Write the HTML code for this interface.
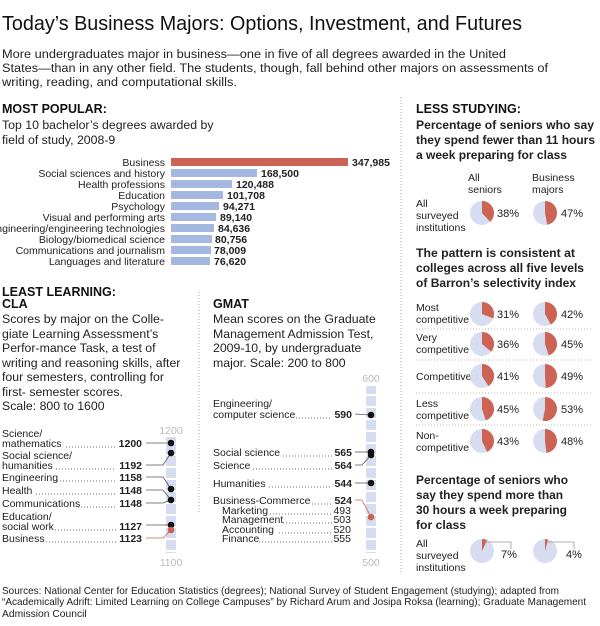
<!DOCTYPE html>
<html><head><meta charset="utf-8"><style>
html,body{margin:0;padding:0;background:#fff}
svg{display:block;font-family:"Liberation Sans",Arial,sans-serif}
</style></head><body>
<svg width="600" height="626" viewBox="0 0 600 626" xmlns="http://www.w3.org/2000/svg">
<defs>
<pattern id="sq" x="0" y="0" width="10" height="12" patternUnits="userSpaceOnUse"><rect x="0" y="0" width="10" height="10" fill="#d6ddf0"/></pattern>
</defs>
<text x="2" y="30" font-size="20" fill="#111" textLength="520" lengthAdjust="spacingAndGlyphs">Today’s Business Majors: Options, Investment, and Futures</text>
<g font-size="12.3" fill="#222">
<text x="2" y="58" textLength="504" lengthAdjust="spacingAndGlyphs">More undergraduates major in business—one in five of all degrees awarded in the United</text>
<text x="2" y="72" textLength="546" lengthAdjust="spacingAndGlyphs">States—than in any other field. The students, though, fall behind other majors on assessments of</text>
<text x="2" y="86" textLength="235" lengthAdjust="spacingAndGlyphs">writing, reading, and computational skills.</text>
</g>
<line x1="401" y1="97" x2="401" y2="574" stroke="#aaa" stroke-dasharray="1,2"/>
<line x1="199" y1="292" x2="199" y2="513" stroke="#aaa" stroke-dasharray="1,2"/>

<text x="2" y="113" font-size="12.5" font-weight="bold" fill="#111">MOST POPULAR:</text>
<text x="2" y="129" font-size="12.3" fill="#222">Top 10 bachelor’s degrees awarded by</text>
<text x="2" y="144" font-size="12.3" fill="#222">field of study, 2008-9</text>
<g font-size="10.5" fill="#222">
<g text-anchor="end">
<text x="165" y="166">Business</text>
<text x="165" y="177">Social sciences and history</text>
<text x="165" y="188">Health professions</text>
<text x="165" y="199">Education</text>
<text x="165" y="210">Psychology</text>
<text x="165" y="221">Visual and performing arts</text>
<text x="165" y="232">Engineering/engineering technologies</text>
<text x="165" y="243">Biology/biomedical science</text>
<text x="165" y="254">Communications and journalism</text>
<text x="165" y="265">Languages and literature</text>
</g>
<rect x="171" y="158" width="177" height="8" fill="#cc6355"/>
<g fill="#a5b8e2">
<rect x="171" y="169" width="86" height="8"/>
<rect x="171" y="180" width="61" height="8"/>
<rect x="171" y="191" width="52" height="8"/>
<rect x="171" y="202" width="48" height="8"/>
<rect x="171" y="213" width="45" height="8"/>
<rect x="171" y="224" width="43" height="8"/>
<rect x="171" y="235" width="41" height="8"/>
<rect x="171" y="246" width="40" height="8"/>
<rect x="171" y="257" width="39" height="8"/>
</g>
<g font-weight="bold">
<text x="352" y="166">347,985</text>
<text x="261" y="177">168,500</text>
<text x="236" y="188">120,488</text>
<text x="227" y="199">101,708</text>
<text x="223" y="210">94,271</text>
<text x="220" y="221">89,140</text>
<text x="218" y="232">84,636</text>
<text x="215" y="243">80,756</text>
<text x="214" y="254">78,009</text>
<text x="214" y="265">76,620</text>
</g>
</g>

<text x="2" y="296" font-size="12.5" font-weight="bold" fill="#111">LEAST LEARNING:</text>
<text x="2" y="308" font-size="12.5" font-weight="bold" fill="#111">CLA</text>
<g font-size="12.3" fill="#222">
<text x="2" y="323">Scores by major on the Colle-</text>
<text x="2" y="338">giate Learning Assessment’s</text>
<text x="2" y="352">Perfor-mance Task, a test of</text>
<text x="2" y="367">writing and reasoning skills, after</text>
<text x="2" y="381">four semesters, controlling for</text>
<text x="2" y="396">first- semester scores.</text>
<text x="2" y="410">Scale: 800 to 1600</text>
</g>
<text x="171" y="434" font-size="10.5" fill="#bbb" text-anchor="middle">1200</text>
<text x="171" y="566" font-size="10.5" fill="#bbb" text-anchor="middle">1100</text>
<rect x="166" y="437" width="10" height="116" fill="url(#sq)"/>
<g font-size="10.5" fill="#222">
<text x="2" y="437">Science/</text>
<text x="2" y="447">mathematics</text>
<text x="2" y="459">Social science/</text>
<text x="2" y="469">humanities</text>
<text x="2" y="481">Engineering</text>
<text x="2" y="494">Health</text>
<text x="2" y="507">Communications</text>
<text x="2" y="520">Education/</text>
<text x="2" y="530">social work</text>
<text x="2" y="542">Business</text>
<g font-weight="bold" text-anchor="end">
<text x="142" y="447">1200</text><text x="142" y="469">1192</text><text x="142" y="481">1158</text>
<text x="142" y="494">1148</text><text x="142" y="507">1148</text><text x="142" y="530">1127</text><text x="142" y="542">1123</text>
</g>
<g stroke="#444" stroke-dasharray="1,2" stroke-width="0.8">
<line x1="66" y1="447" x2="116" y2="447"/><line x1="56" y1="469" x2="116" y2="469"/>
<line x1="57" y1="481" x2="116" y2="481"/><line x1="36" y1="494" x2="116" y2="494"/>
<line x1="78" y1="507" x2="116" y2="507"/><line x1="55" y1="530" x2="116" y2="530"/>
<line x1="46" y1="542" x2="116" y2="542"/>
</g>
</g>
<g stroke="#555" fill="none" stroke-width="0.8">
<polyline points="146,443 171,443"/>
<polyline points="146,465 163,465 171,453"/>
<polyline points="146,477 163,477 171,489"/>
<polyline points="146,490 163,490 171,500"/>
<polyline points="146,503 163,503 171,500"/>
<polyline points="146,525 171,525"/>
<polyline points="146,538 163,538 171,530" stroke="#cc6355"/>
</g>
<g fill="#111">
<circle cx="171" cy="443" r="3.3"/><circle cx="171" cy="453" r="3.3"/><circle cx="171" cy="489" r="3.3"/>
<circle cx="171" cy="500" r="3.3"/><circle cx="171" cy="525" r="3.3"/>
</g>
<circle cx="171" cy="530" r="3.3" fill="#cc6355"/>

<text x="213" y="308" font-size="12.5" font-weight="bold" fill="#111">GMAT</text>
<g font-size="12.3" fill="#222">
<text x="213" y="323">Mean scores on the Graduate</text>
<text x="213" y="338">Management Admission Test,</text>
<text x="213" y="352">2009-10, by undergraduate</text>
<text x="213" y="367">major. Scale: 200 to 800</text>
</g>
<text x="371" y="382" font-size="10.5" fill="#bbb" text-anchor="middle">600</text>
<text x="371" y="566" font-size="10.5" fill="#bbb" text-anchor="middle">500</text>
<rect x="366" y="386" width="10" height="167" fill="url(#sq)"/>
<g font-size="10.5" fill="#222">
<text x="213" y="407">Engineering/</text>
<text x="213" y="418">computer science</text>
<text x="213" y="456">Social science</text>
<text x="213" y="469">Science</text>
<text x="213" y="487">Humanities</text>
<text x="213" y="504">Business-Commerce</text>
<text x="222" y="514">Marketing</text>
<text x="222" y="523">Management</text>
<text x="222" y="533">Accounting</text>
<text x="222" y="542">Finance</text>
<g font-weight="bold" text-anchor="end">
<text x="352" y="418">590</text><text x="352" y="456">565</text><text x="352" y="469">564</text>
<text x="352" y="487">544</text><text x="352" y="504">524</text>
</g>
<g text-anchor="end">
<text x="351" y="514">493</text><text x="351" y="523">503</text><text x="351" y="533">520</text><text x="351" y="542">555</text>
</g>
<g stroke="#444" stroke-dasharray="1,2" stroke-width="0.8">
<line x1="296" y1="418" x2="332" y2="418"/><line x1="283" y1="456" x2="332" y2="456"/>
<line x1="253" y1="469" x2="332" y2="469"/><line x1="269" y1="487" x2="332" y2="487"/>
<line x1="312" y1="504" x2="332" y2="504"/><line x1="270" y1="514" x2="332" y2="514"/>
<line x1="283" y1="523" x2="332" y2="523"/><line x1="279" y1="533" x2="332" y2="533"/>
<line x1="259" y1="542" x2="332" y2="542"/>
</g>
</g>
<g stroke="#555" fill="none" stroke-width="0.8">
<polyline points="355,414 371,415"/>
<polyline points="355,452 371,452"/>
<polyline points="355,465 362,465 371,455"/>
<polyline points="355,483 371,483"/>
<polyline points="355,500 362,500 371,517" stroke="#cc6355"/>
</g>
<g fill="#111">
<circle cx="371" cy="415" r="3.3"/><circle cx="371" cy="452" r="3.3"/><circle cx="371" cy="455" r="3.3"/><circle cx="371" cy="483" r="3.3"/>
</g>
<circle cx="371" cy="517" r="3.3" fill="#cc6355"/>

<text x="416" y="113" font-size="12.5" font-weight="bold" fill="#111">LESS STUDYING:</text>
<g font-size="12" font-weight="bold" fill="#222">
<text x="416" y="129" textLength="178" lengthAdjust="spacingAndGlyphs">Percentage of seniors who say</text>
<text x="416" y="144" textLength="179" lengthAdjust="spacingAndGlyphs">they spend fewer than 11 hours</text>
<text x="416" y="159" textLength="151" lengthAdjust="spacingAndGlyphs">a week preparing for class</text>
<text x="416" y="257" textLength="159" lengthAdjust="spacingAndGlyphs">The pattern is consistent at</text>
<text x="416" y="272" textLength="168" lengthAdjust="spacingAndGlyphs">colleges across all five levels</text>
<text x="416" y="287" textLength="160" lengthAdjust="spacingAndGlyphs">of Barron’s selectivity index</text>
<text x="416" y="484" textLength="152" lengthAdjust="spacingAndGlyphs">Percentage of seniors who</text>
<text x="416" y="499" textLength="147" lengthAdjust="spacingAndGlyphs">say they spend more than</text>
<text x="416" y="514" textLength="151" lengthAdjust="spacingAndGlyphs">30 hours a week preparing</text>
<text x="416" y="529" textLength="50" lengthAdjust="spacingAndGlyphs">for class</text>
</g>
<g font-size="10.5" fill="#222">
<text x="468" y="181">All</text><text x="468" y="193">seniors</text>
<text x="532" y="181">Business</text><text x="532" y="193">majors</text>
<text x="416" y="207">All</text><text x="416" y="219">surveyed</text><text x="416" y="231">institutions</text>
<text x="416" y="311">Most</text><text x="416" y="323">competitive</text>
<text x="416" y="341">Very</text><text x="416" y="353">competitive</text>
<text x="416" y="380">Competitive</text>
<text x="416" y="407">Less</text><text x="416" y="419">competitive</text>
<text x="416" y="439">Non-</text><text x="416" y="451">competitive</text>
<text x="416" y="547">All</text><text x="416" y="559">surveyed</text><text x="416" y="571">institutions</text>
</g>
<g stroke="#bbb" stroke-dasharray="1,2">
<line x1="416" y1="329" x2="592" y2="329"/>
<line x1="416" y1="360" x2="592" y2="360"/>
<line x1="416" y1="393" x2="592" y2="393"/>
<line x1="416" y1="425" x2="592" y2="425"/>
</g>
<g font-size="11" fill="#222">
<g transform="translate(482,213)"><circle r="12" fill="#d6ddf0"/><path d="M0 0L0 -12A12 12 0 0 1 8.21 8.75Z" fill="#cc6355"/></g>
<g transform="translate(545,213)"><circle r="12" fill="#d6ddf0"/><path d="M0 0L0 -12A12 12 0 0 1 2.25 11.79Z" fill="#cc6355"/></g>
<text x="497" y="217">38%</text><text x="561" y="217">47%</text>

<g transform="translate(482,314)"><circle r="12" fill="#d6ddf0"/><path d="M0 0L0 -12A12 12 0 0 1 11.16 4.42Z" fill="#cc6355"/></g>
<g transform="translate(545,314)"><circle r="12" fill="#d6ddf0"/><path d="M0 0L0 -12A12 12 0 0 1 5.78 10.52Z" fill="#cc6355"/></g>
<text x="497" y="318">31%</text><text x="561" y="318">42%</text>

<g transform="translate(482,344)"><circle r="12" fill="#d6ddf0"/><path d="M0 0L0 -12A12 12 0 0 1 9.25 7.65Z" fill="#cc6355"/></g>
<g transform="translate(545,344)"><circle r="12" fill="#d6ddf0"/><path d="M0 0L0 -12A12 12 0 0 1 3.71 11.41Z" fill="#cc6355"/></g>
<text x="497" y="348">36%</text><text x="561" y="348">45%</text>

<g transform="translate(482,376)"><circle r="12" fill="#d6ddf0"/><path d="M0 0L0 -12A12 12 0 0 1 6.43 10.13Z" fill="#cc6355"/></g>
<g transform="translate(545,376)"><circle r="12" fill="#d6ddf0"/><path d="M0 0L0 -12A12 12 0 0 1 0.75 11.98Z" fill="#cc6355"/></g>
<text x="497" y="380">41%</text><text x="561" y="380">49%</text>

<g transform="translate(482,409)"><circle r="12" fill="#d6ddf0"/><path d="M0 0L0 -12A12 12 0 0 1 3.71 11.41Z" fill="#cc6355"/></g>
<g transform="translate(545,409)"><circle r="12" fill="#d6ddf0"/><path d="M0 0L0 -12A12 12 0 1 1 -2.25 11.79Z" fill="#cc6355"/></g>
<text x="497" y="413">45%</text><text x="561" y="413">53%</text>

<g transform="translate(482,441)"><circle r="12" fill="#d6ddf0"/><path d="M0 0L0 -12A12 12 0 0 1 5.11 10.86Z" fill="#cc6355"/></g>
<g transform="translate(545,441)"><circle r="12" fill="#d6ddf0"/><path d="M0 0L0 -12A12 12 0 0 1 1.50 11.91Z" fill="#cc6355"/></g>
<text x="497" y="445">43%</text><text x="561" y="445">48%</text>

<g transform="translate(482,551)"><circle r="12" fill="#d6ddf0"/><path d="M0 0L0 -12A12 12 0 0 1 5.11 -10.86Z" fill="#cc6355"/></g>
<g transform="translate(545,551)"><circle r="12" fill="#d6ddf0"/><path d="M0 0L0 -12A12 12 0 0 1 2.98 -11.62Z" fill="#cc6355"/></g>
<polyline points="485,542 511,542 511,549" fill="none" stroke="#999" stroke-width="0.8"/>
<polyline points="547,542 574,542 574,549" fill="none" stroke="#999" stroke-width="0.8"/>
<text x="501" y="558">7%</text><text x="566" y="558">4%</text>
</g>

<g font-size="10.3" fill="#222">
<text x="2" y="594" textLength="557" lengthAdjust="spacingAndGlyphs">Sources: National Center for Education Statistics (degrees); National Survey of Student Engagement (studying); adapted from</text>
<text x="2" y="605" textLength="584" lengthAdjust="spacingAndGlyphs">“Academically Adrift: Limited Learning on College Campuses” by Richard Arum and Josipa Roksa (learning); Graduate Management</text>
<text x="2" y="617">Admission Council</text>
</g>
</svg>
</body></html>
